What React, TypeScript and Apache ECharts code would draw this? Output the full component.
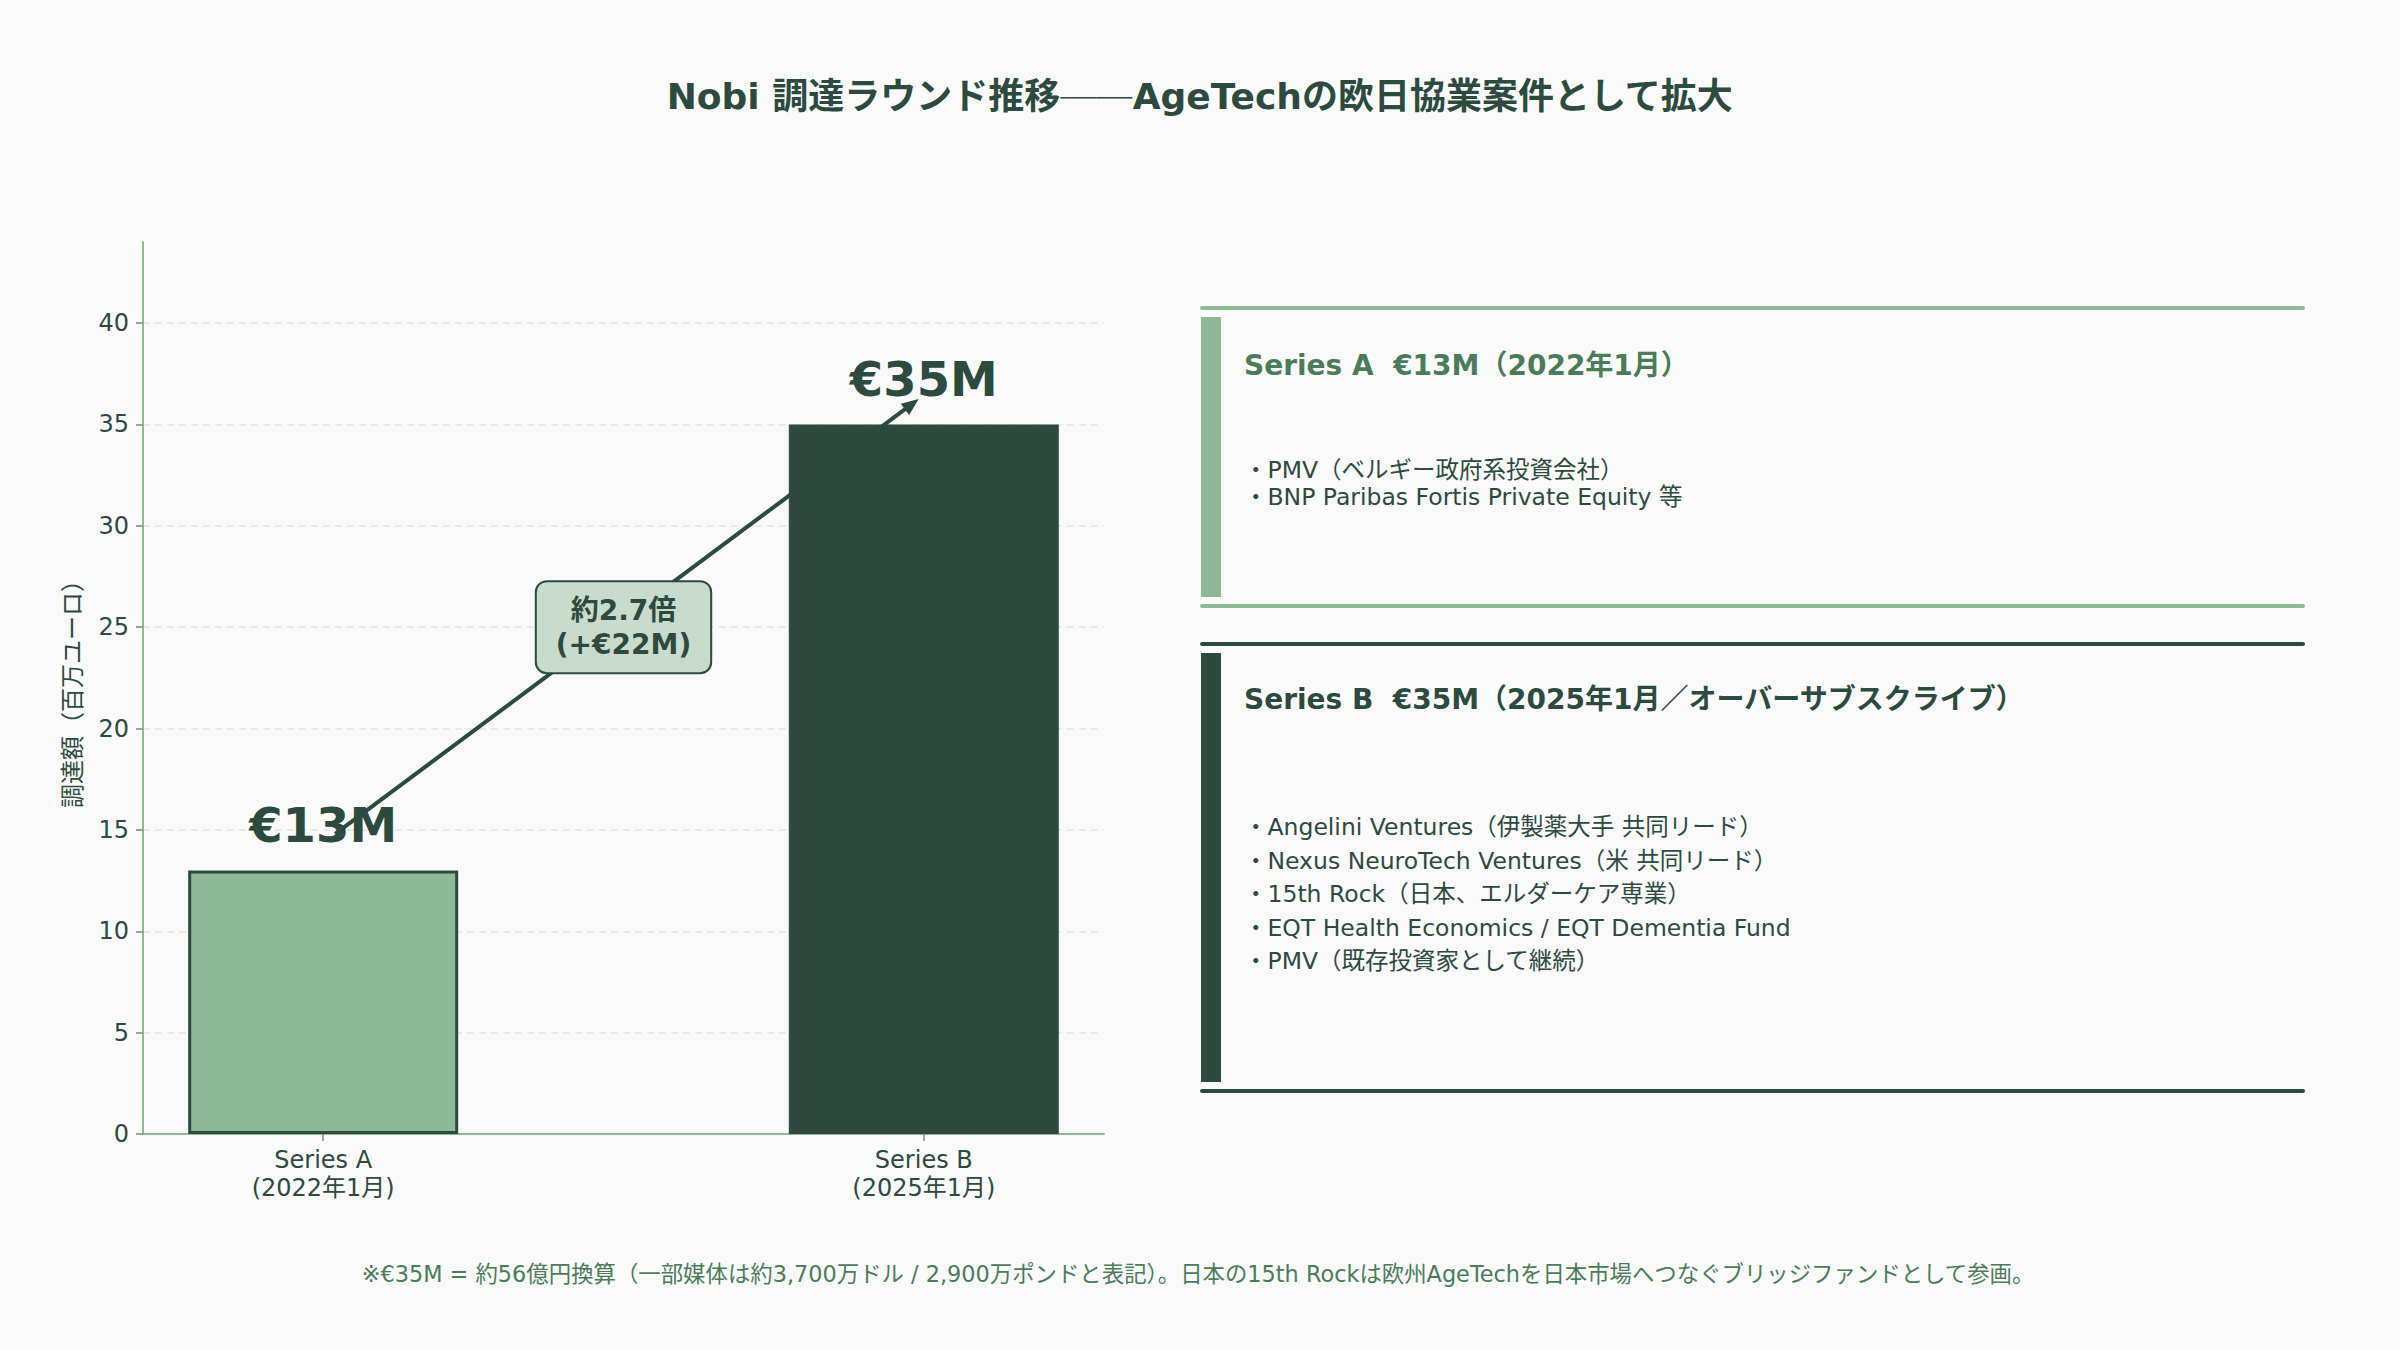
import * as echarts from 'echarts';
import { useEffect, useRef } from 'react';

const TITLE_HEAD = 'Nobi 調達ラウンド推移';
const TITLE_DASH = '──';
const TITLE_TAIL = 'AgeTechの欧日協業案件として拡大';
const ROUND_LABELS = ['Series A\n(2022年1月)', 'Series B\n(2025年1月)'];
const ROUND_POS = [0, 1];
const AMOUNTS = [13, 35];
const AMOUNT_LABELS = ['€13M', '€35M'];
const Y_TICKS = [0, 5, 10, 15, 20, 25, 30, 35, 40];
const ARROW_FROM = [0.02, 14.8];
const ARROW_TO = [0.98, 36.0];
const GROWTH_POS = [0.5, 25];
const GROWTH_TEXT = '約2.7倍\n(+€22M)';

const SERIES_A_TITLE = 'Series A  €13M（2022年1月）';
const SERIES_A_INVESTORS = [
  '・PMV（ベルギー政府系投資会社）',
  '・BNP Paribas Fortis Private Equity 等',
];
const SERIES_B_TITLE = 'Series B  €35M（2025年1月／オーバーサブスクライブ）';
const SERIES_B_INVESTORS = [
  '・Angelini Ventures（伊製薬大手 共同リード）',
  '・Nexus NeuroTech Ventures（米 共同リード）',
  '・15th Rock（日本、エルダーケア専業）',
  '・EQT Health Economics / EQT Dementia Fund',
  '・PMV（既存投資家として継続）',
];
const NOTE =
  '※€35M = 約56億円換算（一部媒体は約3,700万ドル / 2,900万ポンドと表記）。日本の15th Rockは欧州AgeTechを日本市場へつなぐブリッジファンドとして参画。';

const DARK = '#2d4a3e';
const LIGHT = '#8fb996';
const MID = '#4a7c59';
const BOX_FILL = '#c9dbcd';
const GRID = '#dbe7de';
const TICK = '#6f8f78';
const BG = '#fafafa';
const FONT = "'DejaVu Sans', 'Noto Sans CJK JP', sans-serif";
const CJK_FONT = "'Noto Sans CJK JP', sans-serif";

function card(
  top: number,
  bottom: number,
  color: string,
  title: string,
  titleColor: string,
  titleY: number,
  lines: string[],
  firstLineY: number,
  lineGap: number
) {
  const left = 1200;
  const width = 1105;
  const els: any[] = [
    { type: 'rect', shape: { x: left, y: top - 2, width, height: 4, r: 2 }, style: { fill: color } },
    { type: 'rect', shape: { x: left, y: bottom - 2, width, height: 4, r: 2 }, style: { fill: color } },
    {
      type: 'rect',
      shape: { x: left + 1, y: top + 9, width: 20, height: bottom - top - 18 },
      style: { fill: color },
    },
    {
      type: 'text',
      x: 1244,
      y: titleY,
      style: {
        text: title,
        fill: titleColor,
        fontSize: 28,
        fontWeight: 'bold',
        fontFamily: FONT,
        textAlign: 'left',
        textVerticalAlign: 'middle',
      },
    },
  ];
  lines.forEach((line, i) => {
    els.push({
      type: 'text',
      x: 1244,
      y: firstLineY + i * lineGap,
      style: {
        text: line,
        fill: DARK,
        fontSize: 23.5,
        fontFamily: FONT,
        textAlign: 'left',
        textVerticalAlign: 'middle',
      },
    });
  });
  return els;
}

function FundingChart() {
  const chartRef = useRef<HTMLDivElement>(null);

  useEffect(() => {
    document.body.style.margin = '0';
    const myChart = echarts.init(chartRef.current, null, { renderer: 'svg' });

    const option = {
      animation: false,
      backgroundColor: BG,
      textStyle: { fontFamily: FONT },
      title: {
        text: `{a|${TITLE_HEAD}}{b|${TITLE_DASH}}{a|${TITLE_TAIL}}`,
        left: 'center',
        top: 73,
        textStyle: {
          rich: {
            a: { fontSize: 36, fontWeight: 'bold', color: DARK, fontFamily: FONT },
            b: { fontSize: 36, fontWeight: 'bold', color: DARK, fontFamily: CJK_FONT },
          },
        },
      },
      grid: { left: 143, right: 1296, top: 242, bottom: 216, containLabel: false },
      xAxis: {
        type: 'value',
        min: -0.3,
        max: 1.3,
        axisLine: { show: true, onZero: false, lineStyle: { color: LIGHT, width: 2 } },
        axisTick: { show: true, customValues: ROUND_POS, length: 7, lineStyle: { color: TICK, width: 1.5 } },
        axisLabel: {
          customValues: ROUND_POS,
          formatter: (v: number) => {
            const i = ROUND_POS.indexOf(v);
            return i >= 0 ? ROUND_LABELS[i] : '';
          },
          fontSize: 24,
          lineHeight: 28,
          color: DARK,
          margin: 12,
          fontFamily: FONT,
        },
        splitLine: { show: false },
      },
      yAxis: {
        type: 'value',
        min: 0,
        max: 44,
        interval: 5,
        name: '調達額（百万ユーロ）',
        nameLocation: 'middle',
        nameGap: 58,
        nameTextStyle: { fontSize: 24, color: DARK, fontFamily: FONT },
        axisLine: { show: true, onZero: false, lineStyle: { color: LIGHT, width: 2 } },
        axisTick: { show: true, customValues: Y_TICKS, length: 7, lineStyle: { color: TICK, width: 1.5 } },
        axisLabel: {
          customValues: Y_TICKS,
          fontSize: 24,
          color: DARK,
          margin: 14,
          fontFamily: FONT,
        },
        splitLine: {
          show: true,
          showMinLine: false,
          lineStyle: { color: GRID, width: 1.5, type: [7, 5] },
        },
      },
      series: [
        {
          type: 'bar',
          barWidth: 270,
          z: 2,
          data: ROUND_POS.map((x, i) => ({
            value: [x, AMOUNTS[i]],
            itemStyle:
              i === 0
                ? { color: LIGHT, borderColor: DARK, borderWidth: 3 }
                : { color: DARK, borderColor: DARK, borderWidth: 0 },
            label: { formatter: AMOUNT_LABELS[i] },
          })),
          label: {
            show: true,
            position: 'top',
            distance: 21,
            fontSize: 48,
            fontWeight: 'bold',
            color: DARK,
            fontFamily: FONT,
          },
        },
        {
          type: 'line',
          data: [],
          z: 4,
          markLine: {
            silent: true,
            z: 4,
            symbol: ['none', 'triangle'],
            symbolSize: [14, 17],
            lineStyle: { color: DARK, width: 4, type: 'solid' },
            label: { show: false },
            emphasis: { disabled: true },
            data: [[{ coord: ARROW_FROM }, { coord: ARROW_TO }]],
          },
        },
        {
          type: 'scatter',
          z: 10,
          symbolSize: 1,
          itemStyle: { color: 'rgba(0,0,0,0)', opacity: 1 },
          data: [GROWTH_POS],
          label: {
            show: true,
            position: 'inside',
            formatter: GROWTH_TEXT,
            fontSize: 28,
            fontWeight: 'bold',
            lineHeight: 34,
            color: DARK,
            opacity: 1,
            fontFamily: FONT,
            backgroundColor: BOX_FILL,
            borderColor: DARK,
            borderWidth: 2,
            borderRadius: 10,
            padding: [11, 19],
          },
        },
      ],
      graphic: {
        elements: [
          ...card(308, 606, LIGHT, SERIES_A_TITLE, MID, 365, SERIES_A_INVESTORS, 470, 27),
          ...card(644, 1091, DARK, SERIES_B_TITLE, DARK, 699, SERIES_B_INVESTORS, 827, 33.5),
          {
            type: 'text',
            x: 1198,
            y: 1274,
            style: {
              text: NOTE,
              fill: MID,
              fontSize: 22.4,
              fontFamily: FONT,
              textAlign: 'center',
              textVerticalAlign: 'middle',
            },
          },
        ],
      },
    };

    myChart.setOption(option);

    return () => {
      myChart.dispose();
    };
  }, []);

  return <div ref={chartRef} style={{ width: '2400px', height: '1350px' }}></div>;
}

export default function App() {
  return <FundingChart />;
}
